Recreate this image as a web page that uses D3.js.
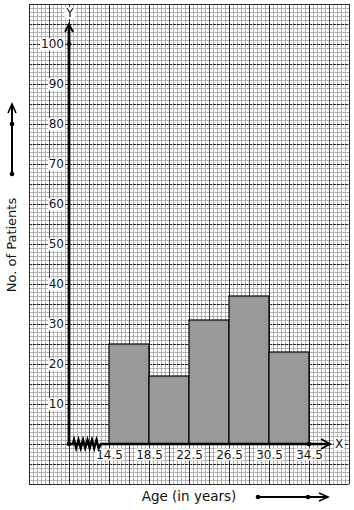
<!DOCTYPE html>
<html>
<head>
<meta charset="utf-8">
<script src="https://cdn.jsdelivr.net/npm/d3@7"></script>
<style>
  body { margin: 0; background: #fff; }
  text { font-family: "DejaVu Sans", sans-serif; fill: #111; }
</style>
</head>
<body>
<div id="chart"></div>
<script>
// class boundaries (age) and number of patients per class
var classEdges = [14.5, 18.5, 22.5, 26.5, 30.5, 34.5];
var patients = [25, 17, 31, 37, 23];
var yTicks = [10, 20, 30, 40, 50, 60, 70, 80, 90, 100];

var svgWidth = 354;
var svgHeight = 510;

var svg = d3.select("#chart")
  .append("svg")
  .attr("width", svgWidth)
  .attr("height", svgHeight);

// graph paper area
var paper = { left: 29, right: 349, top: 4, bottom: 484 };

// scales: 1 year = 10px, 10 patients = 40px
var xScale = d3.scaleLinear().domain([10.5, 38.5]).range([69, 349]);
var yScale = d3.scaleLinear().domain([0, 100]).range([444, 44]);

var grid = svg.append("g").attr("shape-rendering", "crispEdges");

// minor grid lines every 4px
d3.range(paper.left, paper.right + 1, 4).forEach(function(x) {
  grid.append("line")
    .attr("x1", x + 0.5).attr("x2", x + 0.5)
    .attr("y1", paper.top).attr("y2", paper.bottom)
    .attr("stroke", "#b2b2b2").attr("stroke-width", 1);
});
d3.range(paper.top, paper.bottom + 1, 4).forEach(function(y) {
  grid.append("line")
    .attr("x1", paper.left).attr("x2", paper.right)
    .attr("y1", y + 0.5).attr("y2", y + 0.5)
    .attr("stroke", "#b2b2b2").attr("stroke-width", 1);
});

// major grid lines every 20px
d3.range(paper.left, paper.right + 1, 20).forEach(function(x, i) {
  grid.append("line")
    .attr("x1", x + 0.5).attr("x2", x + 0.5)
    .attr("y1", paper.top).attr("y2", paper.bottom)
    .attr("stroke", i % 2 === 0 ? "#2a2a2a" : "#4a4a4a").attr("stroke-width", 1);
});
d3.range(paper.top, paper.bottom + 1, 20).forEach(function(y) {
  var edge = (y === paper.top || y === paper.bottom);
  grid.append("line")
    .attr("x1", paper.left).attr("x2", paper.right)
    .attr("y1", y + 0.5).attr("y2", y + 0.5)
    .attr("stroke", "#2a2a2a").attr("stroke-width", 1)
    .attr("stroke-dasharray", edge ? null : "3,1");
});

// histogram bars
svg.append("g")
  .selectAll("rect")
  .data(patients)
  .enter()
  .append("rect")
  .attr("x", function(d, i) { return xScale(classEdges[i]); })
  .attr("y", function(d) { return yScale(d); })
  .attr("width", function(d, i) { return xScale(classEdges[i + 1]) - xScale(classEdges[i]); })
  .attr("height", function(d) { return yScale(0) - yScale(d); })
  .attr("fill", "#999")
  .attr("stroke", "#000")
  .attr("stroke-width", 1.2);

// helper: white box behind a text node
function whiteBg(sel, pad) {
  sel.each(function() {
    var b = this.getBBox();
    var parent = this.parentNode;
    d3.select(parent).insert("rect", function() { return parent.firstChild; })
      .attr("x", b.x - pad).attr("y", b.y + 1)
      .attr("width", b.width + pad * 2).attr("height", b.height - 2)
      .attr("fill", "#fff");
  });
}

// y axis tick labels
var yAxis = d3.axisLeft(yScale).tickValues(yTicks).tickSize(0).tickPadding(5);
var yG = svg.append("g")
  .attr("transform", "translate(69,0)")
  .call(yAxis);
yG.select(".domain").remove();
yG.selectAll("text")
  .attr("font-size", 12)
  .attr("font-family", "DejaVu Sans, sans-serif")
  .attr("fill", "#111");
whiteBg(yG.selectAll("text"), 1);

// x axis tick labels
var xAxis = d3.axisBottom(xScale).tickValues(classEdges).tickSize(0).tickPadding(6)
  .tickFormat(d3.format(".1f"));
var xG = svg.append("g")
  .attr("transform", "translate(0,444)")
  .call(xAxis);
xG.select(".domain").remove();
xG.selectAll("text")
  .attr("font-size", 12)
  .attr("font-family", "DejaVu Sans, sans-serif")
  .attr("fill", "#111");
whiteBg(xG.selectAll("text"), 1);

// axis lines
var axes = svg.append("g").attr("stroke", "#000").attr("fill", "none");
var x0 = xScale(10.5), y0 = yScale(0);

axes.append("line")
  .attr("x1", x0).attr("y1", y0)
  .attr("x2", x0).attr("y2", 25)
  .attr("stroke-width", 2.8);
axes.append("path")
  .attr("d", "M" + (x0 - 4) + ",32 L" + x0 + ",24 L" + (x0 + 4) + ",32")
  .attr("stroke-width", 1.8);

// x axis with the break (zigzag) near the origin
var zig = [[x0, y0], [x0 + 4, y0]];
for (var k = 0; k < 6; k++) {
  var zx = x0 + 5 + k * 4.5;
  zig.push([zx, y0 - 4], [zx + 2.2, y0 + 4]);
}
zig.push([x0 + 32, y0], [329, y0]);
axes.append("path")
  .attr("d", d3.line()(zig))
  .attr("stroke-width", 2.5);
axes.append("path")
  .attr("d", "M321,439 L330," + y0 + " L321,449")
  .attr("stroke-width", 1.8);

// dots on the axes
[[x0, y0], [x0, yScale(100)], [xScale(34.5), y0]].forEach(function(p) {
  svg.append("circle").attr("cx", p[0]).attr("cy", p[1]).attr("r", 2.3).attr("fill", "#000");
});

// axis letters
var yl = svg.append("g");
yl.append("text").attr("x", 70).attr("y", 17).attr("text-anchor", "middle")
  .attr("font-size", 12).text("Y");
whiteBg(yl.selectAll("text"), 1);
var xl = svg.append("g");
xl.append("text").attr("x", 339).attr("y", 448).attr("text-anchor", "middle")
  .attr("font-size", 12).text("X");
whiteBg(xl.selectAll("text"), 1);

// axis titles
svg.append("text")
  .attr("transform", "translate(16,245) rotate(-90)")
  .attr("text-anchor", "middle")
  .attr("font-size", 13)
  .text("No. of Patients");
svg.append("text")
  .attr("x", 189).attr("y", 501)
  .attr("text-anchor", "middle")
  .attr("font-size", 13.5)
  .text("Age (in years)");

// scale arrows
var arrows = svg.append("g").attr("stroke", "#000").attr("fill", "none");
arrows.append("line").attr("x1", 12).attr("y1", 174).attr("x2", 12).attr("y2", 105).attr("stroke-width", 2);
arrows.append("path").attr("d", "M8,113 L12,104 L16,113").attr("stroke-width", 1.6);
arrows.append("line").attr("x1", 258).attr("y1", 497).attr("x2", 327).attr("y2", 497).attr("stroke-width", 2);
arrows.append("path").attr("d", "M319,493 L328,497 L319,501").attr("stroke-width", 1.6);
[[12, 124], [12, 174], [258, 497], [308, 497]].forEach(function(p) {
  svg.append("circle").attr("cx", p[0]).attr("cy", p[1]).attr("r", 2.3).attr("fill", "#000");
});
</script>
</body>
</html>
